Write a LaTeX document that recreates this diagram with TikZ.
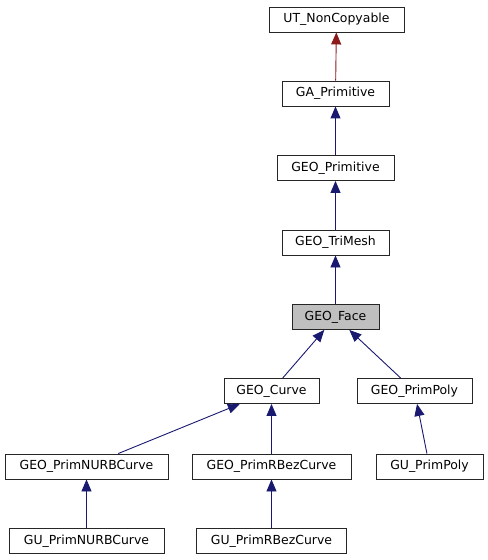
\documentclass[tikz,border=0pt]{standalone}
\usepackage{fontspec}
\setmainfont{DejaVu Sans}
\usepackage{tikz}
\usepackage{xcolor}
\usetikzlibrary{arrows.meta,positioning}

\definecolor{edgeblue}{RGB}{25,25,112}
\definecolor{edgered}{RGB}{139,26,26}

\begin{document}
\begin{tikzpicture}[
      x=1bp, y=-1bp,
      classbox/.style={rectangle, draw=black!85, line width=0.9bp, fill=white, minimum height=25bp, inner sep=0pt, font=\fontsize{12.5}{14}\selectfont},
      current/.style={classbox, fill=black!25},
      arrow/.style={-{Triangle[length=12bp,width=10bp]}, line width=0.9bp, edgeblue},
      privarrow/.style={arrow, edgered}
    ]
      \useasboundingbox (0,0) rectangle (488,560);

      % Base classes
      \node[classbox, minimum width=135bp] (noncopyable) at (336.5,19.5) {UT\_NonCopyable};
      \node[classbox, minimum width=107bp] (gaprim) at (335.5,93.5) {GA\_Primitive};
      \node[classbox, minimum width=117bp] (geoprim) at (335.5,168) {GEO\_Primitive};
      \node[classbox, minimum width=107bp] (trimesh) at (335.5,242.5) {GEO\_TriMesh};
      \node[current, minimum width=87bp] (face) at (335.5,317) {GEO\_Face};

      % Derived classes
      \node[classbox, minimum width=95bp] (curve) at (271.5,391) {GEO\_Curve};
      \node[classbox, minimum width=115bp] (primpoly) at (414.5,391) {GEO\_PrimPoly};
      \node[classbox, minimum width=163bp] (nurb) at (86.5,466.5) {GEO\_PrimNURBCurve};
      \node[classbox, minimum width=159bp] (rbez) at (271.5,466.5) {GEO\_PrimRBezCurve};
      \node[classbox, minimum width=107bp] (gupoly) at (429.5,466.5) {GU\_PrimPoly};
      \node[classbox, minimum width=155bp] (gunurb) at (86.5,541) {GU\_PrimNURBCurve};
      \node[classbox, minimum width=150bp] (gurbez) at (271.5,541) {GU\_PrimRBezCurve};

      % Inheritance arrows
      \draw[privarrow] (gaprim) -- (noncopyable);
      \draw[arrow] (geoprim) -- (gaprim);
      \draw[arrow] (trimesh) -- (geoprim);
      \draw[arrow] (face) -- (trimesh);
      \draw[arrow] (curve) -- (face);
      \draw[arrow] (primpoly) -- (face);
      \draw[arrow] (nurb) -- (curve);
      \draw[arrow] (rbez) -- (curve);
      \draw[arrow] (gupoly) -- (primpoly);
      \draw[arrow] (gunurb) -- (nurb);
      \draw[arrow] (gurbez) -- (rbez);

    \end{tikzpicture}
\end{document}
